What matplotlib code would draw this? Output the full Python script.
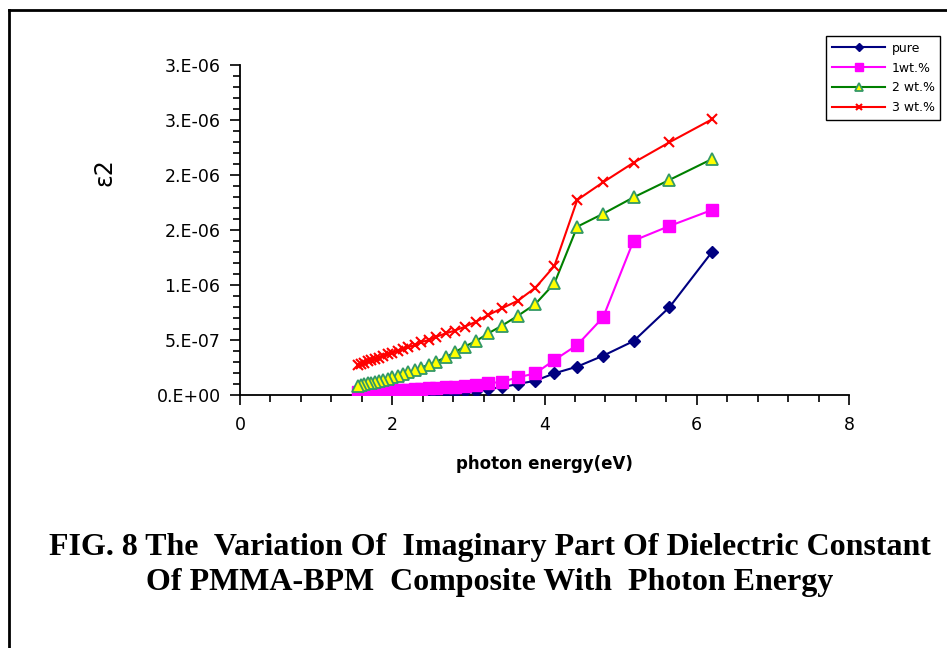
import matplotlib
matplotlib.use("Agg")
import matplotlib.pyplot as plt
from matplotlib.lines import Line2D
from matplotlib.ticker import MultipleLocator, FixedLocator

# ---------------- data ----------------
photon_energy = [6.20, 5.64, 5.17, 4.77, 4.43, 4.13, 3.88, 3.65, 3.44, 3.26,
                 3.10, 2.95, 2.82, 2.70, 2.58, 2.48, 2.38, 2.30, 2.21, 2.14,
                 2.07, 2.00, 1.94, 1.88, 1.82, 1.77, 1.72, 1.68, 1.63, 1.59, 1.55]

pure = [1.30e-6, 0.797e-6, 0.49e-6, 0.357e-6, 0.258e-6, 0.197e-6, 0.13e-6, 0.10e-6, 0.07e-6, 0.055e-6,
        0.040e-6, 0.035e-6, 0.030e-6, 0.027e-6, 0.024e-6, 0.021e-6, 0.019e-6, 0.017e-6, 0.015e-6, 0.014e-6,
        0.013e-6, 0.012e-6, 0.011e-6, 0.011e-6, 0.010e-6, 0.010e-6, 0.010e-6, 0.010e-6, 0.010e-6, 0.010e-6, 0.010e-6]

wt1 = [1.682e-6, 1.536e-6, 1.403e-6, 0.706e-6, 0.455e-6, 0.318e-6, 0.197e-6, 0.160e-6, 0.120e-6, 0.106e-6,
       0.090e-6, 0.080e-6, 0.075e-6, 0.070e-6, 0.065e-6, 0.060e-6, 0.057e-6, 0.054e-6, 0.050e-6, 0.048e-6,
       0.045e-6, 0.043e-6, 0.041e-6, 0.039e-6, 0.037e-6, 0.035e-6, 0.034e-6, 0.033e-6, 0.032e-6, 0.031e-6, 0.030e-6]

wt2 = [2.145e-6, 1.955e-6, 1.797e-6, 1.648e-6, 1.530e-6, 1.015e-6, 0.827e-6, 0.720e-6, 0.630e-6, 0.560e-6,
       0.490e-6, 0.440e-6, 0.388e-6, 0.343e-6, 0.303e-6, 0.275e-6, 0.250e-6, 0.225e-6, 0.205e-6, 0.190e-6,
       0.175e-6, 0.160e-6, 0.150e-6, 0.140e-6, 0.130e-6, 0.120e-6, 0.110e-6, 0.105e-6, 0.098e-6, 0.090e-6, 0.085e-6]

wt3 = [2.506e-6, 2.297e-6, 2.112e-6, 1.934e-6, 1.773e-6, 1.173e-6, 0.975e-6, 0.857e-6, 0.788e-6, 0.727e-6,
       0.666e-6, 0.620e-6, 0.585e-6, 0.560e-6, 0.530e-6, 0.500e-6, 0.480e-6, 0.455e-6, 0.435e-6, 0.415e-6,
       0.400e-6, 0.385e-6, 0.370e-6, 0.355e-6, 0.340e-6, 0.330e-6, 0.315e-6, 0.305e-6, 0.295e-6, 0.285e-6, 0.273e-6]

series_names = ["pure", "1wt.%", "2 wt.%", "3 wt.%"]
y_ticks = [0, 5e-7, 1e-6, 1.5e-6, 2e-6, 2.5e-6, 3e-6]
y_tick_labels = ["0.E+00", "5.E-07", "1.E-06", "2.E-06", "2.E-06", "3.E-06", "3.E-06"]
x_ticks = [0, 2, 4, 6, 8]
x_tick_labels = ["0", "2", "4", "6", "8"]
caption = ("FIG. 8 The  Variation Of  Imaginary Part Of Dielectric Constant\n"
           "Of PMMA-BPM  Composite With  Photon Energy")

# ---------------- figure ----------------
plt.rcParams['font.family'] = ['DejaVu Sans']
W, H = 947, 648
fig = plt.figure(figsize=(W / 100, H / 100), dpi=100)
ax = fig.add_axes([240 / W, 1 - 395 / H, (849 - 240) / W, (395 - 65) / H])

ax.plot(photon_energy, pure, color="#000080", lw=1.5, marker="D", ms=6.5,
        mfc="#000080", mec="#000080", label=series_names[0], zorder=3)
ax.plot(photon_energy, wt1, color="#FF00FF", lw=1.5, marker="s", ms=8,
        mfc="#FF00FF", mec="#FF00FF", label=series_names[1], zorder=4)
ax.plot(photon_energy, wt2, color="#008000", lw=1.5, marker="^", ms=9,
        mfc="#FFFF00", mec="#339966", mew=1.3, label=series_names[2], zorder=5)
ax.plot(photon_energy, wt3, color="#FF0000", lw=1.5, marker="x", ms=7.5,
        mew=1.5, mec="#FF0000", label=series_names[3], zorder=6)

ax.set_xlim(0, 8)
ax.set_ylim(0, 3e-6)
ax.xaxis.set_major_locator(FixedLocator(x_ticks))
ax.set_xticklabels(x_tick_labels)
ax.xaxis.set_minor_locator(MultipleLocator(0.4))
ax.yaxis.set_major_locator(FixedLocator(y_ticks))
ax.set_yticklabels(y_tick_labels)
ax.yaxis.set_minor_locator(MultipleLocator(1e-7))

for s in ("top", "right"):
    ax.spines[s].set_visible(False)
for s in ("left", "bottom"):
    ax.spines[s].set_linewidth(1.3)
    ax.spines[s].set_color("black")

ax.tick_params(axis="both", which="major", direction="out", length=7, width=1.2,
               labelsize=12.5, colors="black")
ax.tick_params(axis="both", which="minor", direction="out", length=5, width=1.2)
ax.tick_params(axis="y", which="major", pad=7)
ax.tick_params(axis="x", which="major", pad=8)

ax.set_xlabel("photon energy(eV)", fontsize=12, fontweight="bold", labelpad=15)
fig.text(104 / W, 1 - 172 / H, "ε2", rotation=90, fontsize=17,
         ha="center", va="center")

leg = ax.legend(loc="upper left", bbox_to_anchor=(826 / W, 1 - 36 / H),
                bbox_transform=fig.transFigure, fontsize=9, frameon=True,
                fancybox=False, edgecolor="black", framealpha=1,
                handlelength=4.3, handletextpad=0.5, borderpad=0.45,
                labelspacing=0.55, borderaxespad=0, markerscale=0.65)
leg.get_frame().set_linewidth(1.0)

fig.text(490 / W, 1 - 565 / H, caption, ha="center", va="center",
         fontsize=23, fontweight="bold", family="Liberation Serif",
         linespacing=1.25)

# outer frame (left and top lines)
fig.add_artist(Line2D([8.5 / W, 8.5 / W], [0, 1 - 10 / H], transform=fig.transFigure,
                      color="black", lw=2))
fig.add_artist(Line2D([8.5 / W, 1], [1 - 10 / H, 1 - 10 / H], transform=fig.transFigure,
                      color="black", lw=2))

fig.savefig("out.png", dpi=100)
